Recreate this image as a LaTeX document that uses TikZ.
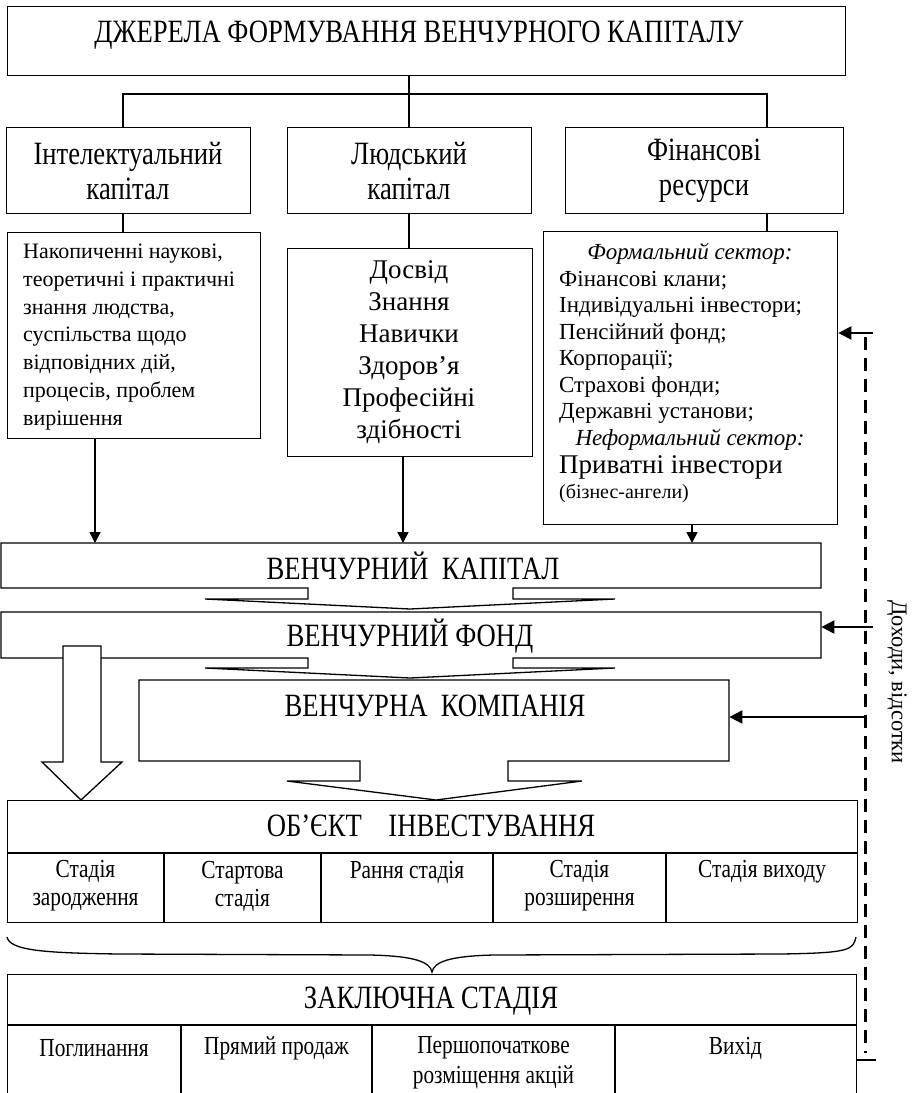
\documentclass[tikz,border=0pt]{standalone}
\usepackage{fontspec}
\setmainfont{Liberation Serif}
\newfontfamily\cnd[FakeStretch=0.82]{Liberation Serif}
\usetikzlibrary{arrows.meta,calc}
\newcommand\fHead{\cnd\fontsize{32.5}{36}\selectfont}
\newcommand\fRow{\cnd\fontsize{32.5}{35}\selectfont}
\newcommand\fStage{\cnd\fontsize{26}{28}\selectfont}
\newcommand\fFin{\cnd\fontsize{26}{30}\selectfont}
\newcommand\fA{\fontsize{22}{27.8}\selectfont}
\newcommand\fB{\fontsize{27}{32}\selectfont}
\newcommand\fC{\fontsize{23}{26.5}\selectfont}
\begin{document}
\begin{tikzpicture}[x=1pt,y=-1pt,
  lw/.style={line width=1.3pt},
  bx/.style={draw,line width=1.3pt,inner sep=0pt,anchor=north west,fill=white},
  ghost/.style={inner sep=0pt,anchor=north west},
  tx/.style={inner sep=0pt,align=center},
  arr/.style={line width=1.6pt,-{Triangle[length=11pt,width=11pt]}},
  rarr/.style={line width=2.2pt,-{Triangle[length=13pt,width=13pt]}},
  dsh/.style={line width=3pt,dash pattern=on 13pt off 8pt}]
\useasboundingbox (0,0) rectangle (919,1093);
\clip (0,0) rectangle (919,1093);

% ---------- top part ----------
\node[bx,minimum width=838,minimum height=69] (top) at (7,6) {};
\node[tx,font=\fHead] (topt) at (419,35) {ДЖЕРЕЛА ФОРМУВАННЯ ВЕНЧУРНОГО КАПІТАЛУ};

\node[bx,minimum width=244,minimum height=86] (ia) at (6,127) {};
\node[bx,minimum width=244,minimum height=86] (ib) at (287,127) {};
\node[bx,minimum width=278,minimum height=86] (ic) at (565,127) {};
\node[tx,font=\fRow] (iat) at (128,171) {Інтелектуальний\\капітал};
\node[tx,font=\fRow] (ibt) at (409,171) {Людський\\капітал};
\node[tx,font=\fRow] (ict) at (704,171) {Фінансові\\ресурси};

\node[bx,minimum width=253,minimum height=206] (la) at (7,232) {};
\node[bx,minimum width=245,minimum height=208] (lb) at (287,248) {};
\node[bx,minimum width=294,minimum height=293] (lc) at (543,231) {};

\coordinate (jm) at (409,94);
\coordinate (jl) at (123,94);
\coordinate (jr) at (767,94);
\draw[lw] (top.south -| jm) -- (ib.north -| jm);
\draw[lw] (ia.north -| jl) -- (jl) -- (jr) -- (ic.north -| jr);
\draw[lw] (ia.south -| jl) -- (la.north -| jl);
\draw[lw] (ib.south -| jm) -- (lb.north -| jm);
\draw[lw] (ic.south -| jr) -- (lc.north -| jr);

\node[tx,align=left,anchor=west,font=\fA] (lat) at (23,337) {Накопиченні наукові,\\теоретичні і практичні\\знання людства,\\суспільства щодо\\відповідних дій,\\процесів, проблем\\вирішення};
\node[tx,font=\fB] (lbt) at (409,352) {Досвід\\Знання\\Навички\\Здоров’я\\Професійні\\здібності};

\node[inner sep=0pt,anchor=base,font=\fC\itshape] (c1) at (690,259) {Формальний сектор:};
\node[inner sep=0pt,anchor=base west,font=\fC] (c2) at (559,286) {Фінансові клани;};
\node[inner sep=0pt,anchor=base west,font=\fC] (c3) at (559,312.5) {Індивідуальні інвестори;};
\node[inner sep=0pt,anchor=base west,font=\fC] (c4) at (559,339) {Пенсійний фонд;};
\node[inner sep=0pt,anchor=base west,font=\fC] (c5) at (559,365.5) {Корпорації;};
\node[inner sep=0pt,anchor=base west,font=\fC] (c6) at (559,392) {Страхові фонди;};
\node[inner sep=0pt,anchor=base west,font=\fC] (c7) at (559,418.5) {Державні установи;};
\node[inner sep=0pt,anchor=base,font=\fC\itshape] (c8) at (690,445) {Неформальний сектор:};
\node[inner sep=0pt,anchor=base west,font=\fontsize{27}{30}\selectfont] (c9) at (559,473) {Приватні інвестори};
\node[inner sep=0pt,anchor=base west,font=\fontsize{20}{24}\selectfont] (c10) at (559,498) {(бізнес-ангели)};

% ---------- venture chain ----------
\node[ghost,minimum width=820,minimum height=45] (vk) at (1,543) {};
\node[ghost,minimum width=820,minimum height=46] (vf) at (1,612) {};
\node[ghost,minimum width=590,minimum height=81] (vc) at (139,680) {};

\draw[lw,fill=white] (308,588) -- (1,588) -- (1,543) -- (821,543) -- (821,588) -- (513,588)
  -- (513,599) -- (615,599) -- (410,609) -- (205,599) -- (308,599) -- cycle;
\draw[lw,fill=white] (308,658) -- (1,658) -- (1,612) -- (821,612) -- (821,658) -- (513,658)
  -- (513,668) -- (615,668) -- (410,678) -- (205,668) -- (308,668) -- cycle;
\draw[lw,fill=white] (360,761) -- (139,761) -- (139,680) -- (729,680) -- (729,761) -- (508,761)
  -- (508,781) -- (582,781) -- (436,800) -- (287,781) -- (360,781) -- cycle;

\node[tx,font=\fHead] (vkt) at (413,566) {ВЕНЧУРНИЙ\ \ КАПІТАЛ};
\node[tx,font=\fHead] (vft) at (410,636) {ВЕНЧУРНИЙ ФОНД};
\node[tx,font=\fHead] (vct) at (435,706) {ВЕНЧУРНА\ \ КОМПАНІЯ};

\coordinate (a1) at (95,0);
\coordinate (a2) at (403,0);
\coordinate (a3) at (692,0);
\draw[arr] (la.south -| a1) -- (vk.north -| a1);
\draw[arr] (lb.south -| a2) -- (vk.north -| a2);
\draw[arr] (lc.south -| a3) -- (vk.north -| a3);

% hollow arrow
\draw[lw,fill=white] (63,646) -- (101,646) -- (101,762) -- (122,762) -- (81,800) -- (42,762) -- (63,762) -- cycle;

% ---------- object of investment ----------
\node[bx,minimum width=850,minimum height=122] (oi) at (7,800) {};
\coordinate (oid) at (0,853);
\draw[lw] (oi.west |- oid) -- (oi.east |- oid);
\foreach \x in {164,321,493,666} \draw[lw] (\x,853) -- (\x,922);
\node[tx,font=\fHead] (oit) at (431,826) {ОБ’ЄКТ\ \ \ \ ІНВЕСТУВАННЯ};
\node[tx,font=\fStage] (s1) at (85.5,886) {Стадія\\зародження};
\node[tx,font=\fStage] (s2) at (242.5,886) {Стартова\\стадія};
\node[tx,font=\fStage] (s3) at (407,872) {Рання стадія};
\node[tx,font=\fStage] (s4) at (579.5,886) {Стадія\\розширення};
\node[tx,font=\fStage] (s5) at (762,872) {Стадія виходу};

% brace
\draw[lw] (7,937) .. controls (10,950) and (40,953) .. (120,954) -- (370,955)
  .. controls (415,956) and (430,962) .. (432,972)
  .. controls (434,962) and (449,956) .. (494,955) -- (780,954)
  .. controls (850,953) and (853,950) .. (856,937);

% ---------- final stage ----------
\node[bx,minimum width=849,minimum height=150] (zs) at (7,974) {};
\coordinate (zsd) at (0,1025);
\draw[lw] (zs.west |- zsd) -- (zs.east |- zsd);
\foreach \x in {181,372,615} \draw[lw] (\x,1025) -- (\x,1124);
\node[tx,font=\fHead] (zst) at (431,1001) {ЗАКЛЮЧНА СТАДІЯ};
\node[tx,font=\fFin] (f1) at (94,1048) {Поглинання};
\node[tx,font=\fFin] (f2) at (276.5,1048) {Прямий продаж};
\node[tx,font=\fFin] (f3) at (493.5,1063) {Першопочаткове\\розміщення акцій};
\node[tx,font=\fFin] (f4) at (735.5,1048) {Вихід};

% ---------- returns (dashed feedback) ----------
\coordinate (d1) at (865,337);
\coordinate (d2) at (865,1053);
\draw[dsh] (d1) -- (d2);
\coordinate (r1) at (873,333);
\coordinate (r2) at (873,627);
\coordinate (r3) at (865,717);
\coordinate (r4) at (876,1060);
\draw[rarr] (r1) -- (r1 -| lc.east);
\draw[rarr] (r2) -- (r2 -| vf.east);
\draw[rarr] (r3) -- (r3 -| vc.east);
\draw[line width=2.2pt] (zs.east |- r4) -- (r4);
\node[inner sep=0pt,rotate=-90,font=\fontsize{22.5}{26}\selectfont] (dv) at (897,682) {Доходи, відсотки};
\end{tikzpicture}
\end{document}
